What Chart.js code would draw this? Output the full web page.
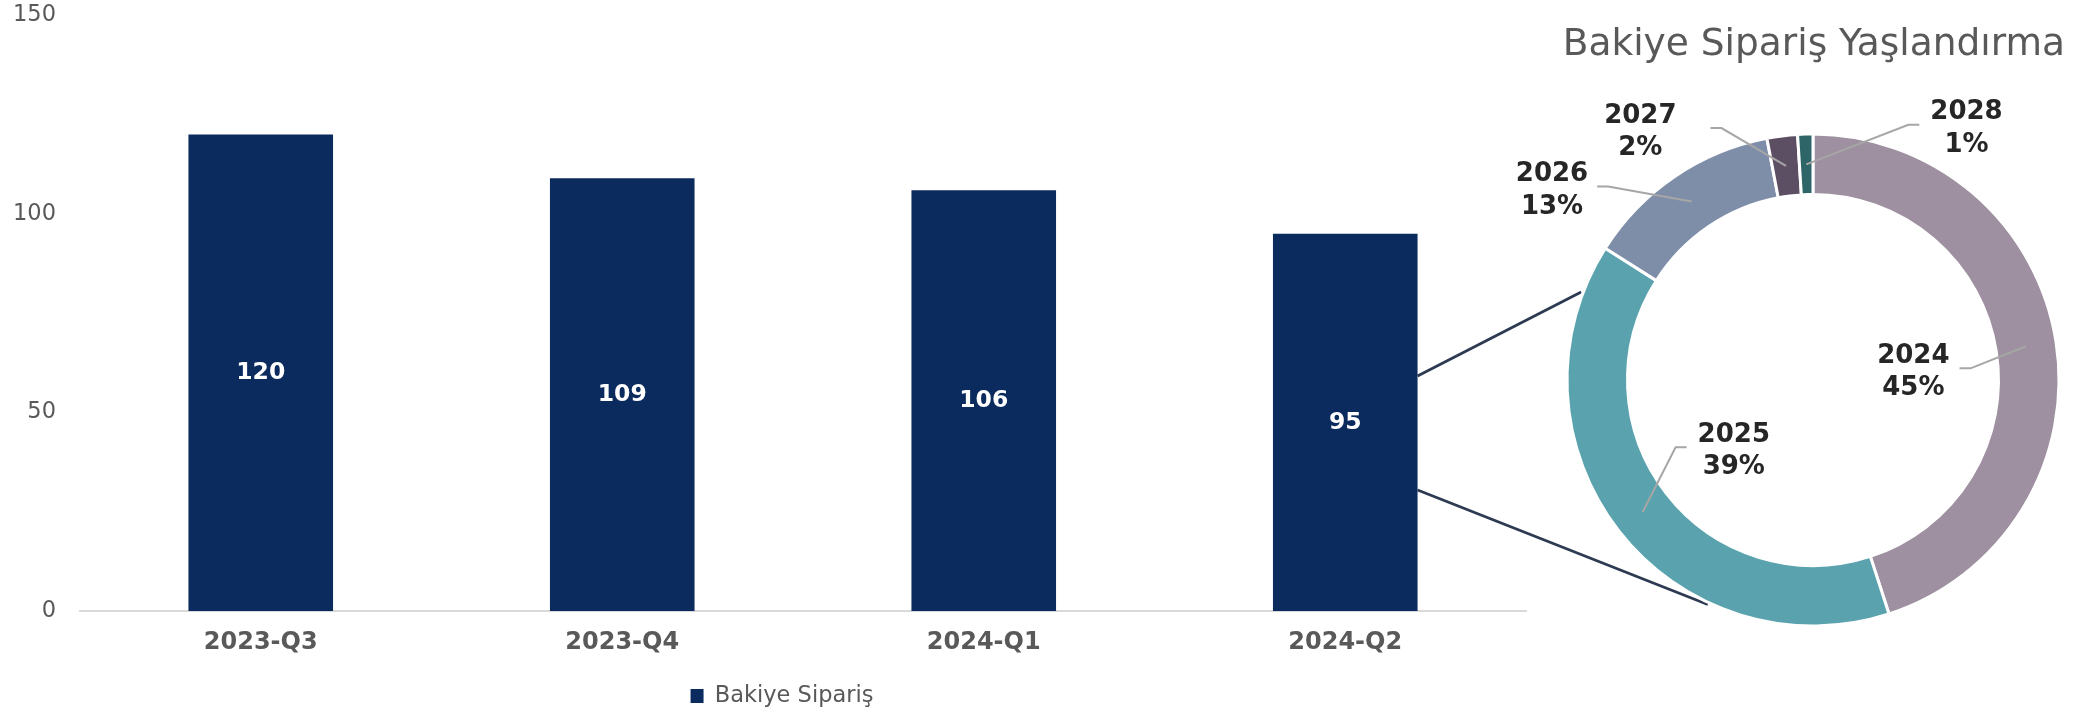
<!DOCTYPE html>
<html>
<head>
<meta charset="utf-8">
<script src="https://cdn.jsdelivr.net/npm/chart.js@4"></script>
<style>
  html, body { margin: 0; padding: 0; background: #ffffff; width: 2090px; height: 714px; overflow: hidden; }
  #barWrap { position: absolute; left: 0; top: 0; width: 1564px; height: 714px; }
  #donutWrap { position: absolute; left: 0; top: 0; width: 2090px; height: 714px; pointer-events: none; }
</style>
</head>
<body>
<div id="barWrap"><canvas id="bar"></canvas></div>
<div id="donutWrap"><canvas id="donut"></canvas></div>
<script>
// ---- data ----
const quarters = ['2023-Q3', '2023-Q4', '2024-Q1', '2024-Q2'];
const backlog = [120, 109, 106, 95];
const backlogLabel = 'Bakiye Sipariş';
const yTickValues = [0, 50, 100, 150];
const agingYears = ['2024', '2025', '2026', '2027', '2028'];
const agingShare = [45, 39, 13, 2, 1];
const agingTitle = 'Bakiye Sipariş Yaşlandırma';

// ---- styling ----
const FONT = '"DejaVu Sans", Verdana, sans-serif';
Chart.defaults.font.family = FONT;
Chart.defaults.animation = false;

const barLabels = {
  id: 'barLabels',
  afterDatasetsDraw(chart) {
    const ctx = chart.ctx;
    const meta = chart.getDatasetMeta(0);
    ctx.save();
    ctx.font = 'bold 23.5px ' + FONT;
    ctx.fillStyle = '#ffffff';
    ctx.textAlign = 'center';
    ctx.textBaseline = 'middle';
    meta.data.forEach((bar, i) => {
      const v = chart.data.datasets[0].data[i];
      ctx.fillText(String(v), bar.x, (bar.y + bar.base) / 2);
    });
    ctx.restore();
  }
};

function noPad(s) {
  s.paddingTop = 0; s.paddingBottom = 0; s.paddingLeft = 0; s.paddingRight = 0;
}

const barChart = new Chart(document.getElementById('bar'), {
  type: 'bar',
  data: {
    labels: quarters,
    datasets: [{
      label: backlogLabel,
      data: backlog,
      backgroundColor: '#0b2b5f',
      borderWidth: 0,
      barPercentage: 0.4,
      categoryPercentage: 1.0
    }]
  },
  options: {
    responsive: true,
    maintainAspectRatio: false,
    events: [],
    layout: { autoPadding: false, padding: { left: 0, right: 0, top: 15.5, bottom: -3.25 } },
    scales: {
      x: {
        grid: { display: false, drawTicks: false },
        border: { display: true, color: '#d9d9d9', width: 2 },
        ticks: { color: '#595959', font: { size: 24, weight: 'bold' }, padding: 17 },
        afterFit(s) { s.height = 63.75; noPad(s); }
      },
      y: {
        min: 0, max: 150,
        grid: { display: false, drawTicks: false },
        border: { display: false },
        afterBuildTicks(s) { s.ticks = yTickValues.map(v => ({ value: v })); },
        ticks: { color: '#595959', font: { size: 22.5 }, padding: 24 },
        afterFit(s) { s.width = 80; noPad(s); }
      },
      yr: {
        position: 'right',
        display: true,
        grid: { display: false, drawTicks: false },
        border: { display: false },
        ticks: { display: false },
        afterFit(s) { s.width = 38; noPad(s); }
      }
    },
    plugins: {
      legend: {
        display: true,
        position: 'bottom',
        labels: {
          color: '#595959',
          font: { size: 22.5 },
          boxWidth: 13,
          boxHeight: 14,
          padding: 10
        }
      },
      tooltip: { enabled: false },
      title: { display: false }
    }
  },
  plugins: [barLabels]
});

// label placement around the doughnut (relative to outer radius), and leader gaps
const donutLabelPlacement = [
  { fx: 0.408, fy: -0.031, gap: 10 },
  { fx: -0.322, fy: 0.290, gap: 11 },
  { fx: -1.061, fy: -0.770, gap: 9 },
  { fx: -0.702, fy: -1.008, gap: 34 },
  { fx: 0.624, fy: -1.021, gap: 11 }
];

const zoomLines = {
  id: 'zoomLines',
  beforeDatasetsDraw(chart) {
    const bm = barChart.getDatasetMeta(0);
    const bar = bm.data[bm.data.length - 1];
    const arc = chart.getDatasetMeta(0).data[0];
    if (!bar || !arc) return;
    const right = bar.x + bar.width / 2;
    const h = bar.base - bar.y;
    const R = arc.outerRadius * 1.008;
    const toPt = (deg) => {
      const a = (deg - 90) * Math.PI / 180;
      return [arc.x + Math.cos(a) * R, arc.y + Math.sin(a) * R];
    };
    const ctx = chart.ctx;
    ctx.save();
    ctx.strokeStyle = '#2c3a52';
    ctx.lineWidth = 2.8;
    const p1 = toPt(290.8), p2 = toPt(205.1);
    ctx.beginPath();
    ctx.moveTo(right, bar.y + 0.377 * h);
    ctx.lineTo(p1[0], p1[1]);
    ctx.moveTo(right, bar.y + 0.679 * h);
    ctx.lineTo(p2[0], p2[1]);
    ctx.stroke();
    ctx.restore();
  }
};

const donutLabels = {
  id: 'donutLabels',
  afterDatasetsDraw(chart) {
    const ctx = chart.ctx;
    const meta = chart.getDatasetMeta(0);
    const data = chart.data.datasets[0].data;
    const total = data.reduce((a, b) => a + b, 0);
    ctx.save();
    ctx.font = 'bold 26px ' + FONT;
    meta.data.forEach((arc, i) => {
      const place = donutLabelPlacement[i];
      const R = arc.outerRadius;
      const cx = arc.x + place.fx * R;
      const cy = arc.y + place.fy * R;
      const lines = [chart.data.labels[i], Math.round(data[i] / total * 100) + '%'];
      const w = Math.max(...lines.map(t => ctx.measureText(t).width));
      const mid = (arc.startAngle + arc.endAngle) / 2;
      const ringR = (arc.innerRadius + arc.outerRadius) / 2;
      const ex = arc.x + Math.cos(mid) * ringR;
      const ey = arc.y + Math.sin(mid) * ringR;
      const dir = ex > cx ? 1 : -1;
      const sx = cx + dir * (w / 2 + place.gap);
      const ly = cy - 4;
      ctx.strokeStyle = '#a6a6a6';
      ctx.lineWidth = 2;
      ctx.beginPath();
      ctx.moveTo(sx, ly);
      ctx.lineTo(sx + dir * 11, ly);
      ctx.lineTo(ex, ey);
      ctx.stroke();
      ctx.fillStyle = '#262626';
      ctx.textAlign = 'center';
      ctx.textBaseline = 'middle';
      const lh = 32.5;
      ctx.fillText(lines[0], cx, cy - lh / 2);
      ctx.fillText(lines[1], cx, cy + lh / 2);
    });
    ctx.restore();
  }
};

const donutChart = new Chart(document.getElementById('donut'), {
  type: 'doughnut',
  data: {
    labels: agingYears,
    datasets: [{
      data: agingShare,
      backgroundColor: ['#9e90a0', '#5aa3ae', '#7e8ea9', '#5d4f63', '#2d6569'],
      borderColor: '#ffffff',
      borderWidth: 3
    }]
  },
  options: {
    responsive: true,
    maintainAspectRatio: false,
    events: [],
    cutout: '75.4%',
    layout: { padding: { left: 1561, right: 25, top: 0, bottom: 86.5 } },
    plugins: {
      legend: { display: false },
      tooltip: { enabled: false },
      title: {
        display: true,
        text: agingTitle,
        align: 'end',
        color: '#595959',
        font: { size: 37.5, weight: 'normal', lineHeight: 1.2 },
        padding: { top: 23, bottom: 64.5 }
      }
    }
  },
  plugins: [zoomLines, donutLabels]
});
</script>
</body>
</html>
